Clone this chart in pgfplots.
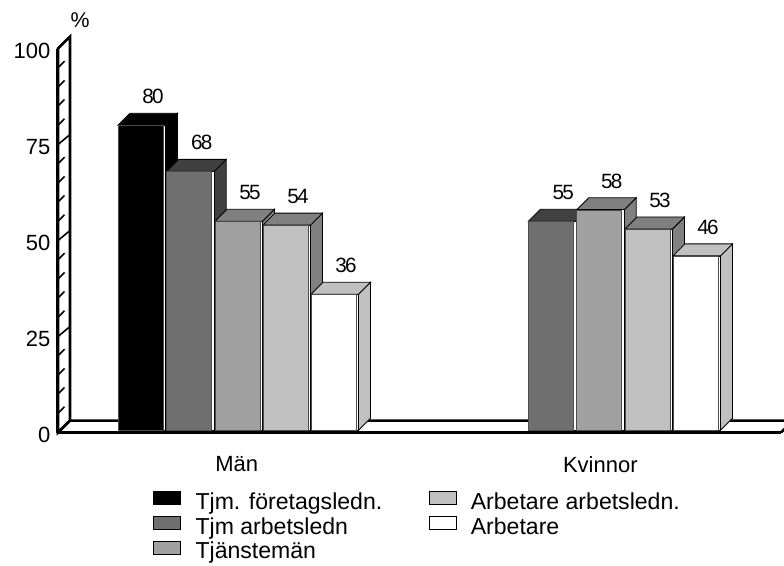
\documentclass[border=0pt]{standalone}
\usepackage{pgfplots}
\pgfplotsset{compat=1.18}
\usepackage{fontspec}
\setmainfont{Liberation Sans}
\newfontfamily\valfont[LetterSpace=-8]{Liberation Sans}

\def\px{0.75pt}
\definecolor{grayA}{HTML}{6F6F6F}
\definecolor{grayAd}{HTML}{404040}
\definecolor{grayB}{HTML}{A0A0A0}
\definecolor{grayBd}{HTML}{808080}
\definecolor{grayC}{HTML}{C0C0C0}

% one bar with depth: left edge (px), value, front, top and side colours
\newcommand{\solidbar}[5]{%
  \pgfmathsetmacro\xa{#1+45}%
  \pgfmathsetmacro\xb{#1+47.5}%
  \pgfmathsetmacro\xc{#1+12}%
  \pgfmathsetmacro\xd{#1+59.5}%
  \pgfmathsetmacro\yb{#2+3.125}%
  \pgfmathsetmacro\xl{#1+35}%
  \pgfmathsetmacro\yl{#2+7.5}%
  \edef\doit{%
    \noexpand\addplot[forget plot,fill=#5,draw=black,line width=0.8*\px] coordinates {(\xb,0.6)(\xd,3.725)(\xd,\yb)(\xb,#2)} --cycle;
    \noexpand\addplot[forget plot,fill=#4,draw=black,line width=0.8*\px] coordinates {(#1,#2)(\xc,\yb)(\xd,\yb)(\xb,#2)} --cycle;
    \noexpand\addplot[forget plot,fill=white,draw=black,line width=0.6*\px] coordinates {(#1,0.6)(\xb,0.6)(\xb,#2)(#1,#2)} --cycle;
    \noexpand\addplot[forget plot,fill=#3,draw=black!70,line width=0.5*\px] coordinates {(#1,0.6)(\xa,0.6)(\xa,#2)(#1,#2)} --cycle;
    \noexpand\node[font=\noexpand\valfont\noexpand\fontsize{15.5}{17}\noexpand\selectfont] at (axis cs:\xl,\yl) {#2};
  }\doit
}

\begin{document}
\begin{tikzpicture}
\path[use as bounding box] (-58*\px,-132.5*\px) rectangle (726*\px,432.5*\px);
\begin{axis}[
    at={(0,0)}, anchor=south west,
    scale only axis,
    width=723*\px, height=384*\px,
    xmin=58, xmax=781, ymin=0, ymax=100,
    clip=false, axis on top,
    axis lines=left,
    axis line style={-,line width=3*\px,black},
    major tick length=0pt,
    ytick={0,25,50,75,100},
    xtick={236.7,600.3},
    xticklabels={Män,Kvinnor},
    tick label style={font=\fontsize{16.5}{18}\selectfont},
    x tick label style={yshift=-19.5*\px},
    y tick label style={xshift=-3*\px,yshift=-2.5*\px},
    /pgf/number format/assume math mode=true,
    legend cell align=left,
    legend columns=3, transpose legend,
    legend style={at={(axis cs:153,-15.3)},anchor=north west,draw=none,fill=none,
      inner sep=0pt,outer sep=0pt,row sep=2.3*\px,
      font=\fontsize{17.3}{20}\selectfont,
      nodes={inner sep=0pt,text height=17*\px,text depth=4.5*\px},
      /tikz/column 1/.style={column sep=15*\px},
      /tikz/column 2/.style={column sep=47*\px},
      /tikz/column 3/.style={column sep=14*\px}},
    legend image code/.code={\path[#1] (0,-1.5*\px) rectangle (27*\px,11.5*\px);},
]
% wall and floor
\addplot[forget plot,fill=white,draw=black,line width=2.6*\px] coordinates {(58,0)(70,3.1)(70,103.1)(58,100)} --cycle;
\addplot[forget plot,draw=black,line width=2.6*\px] coordinates {(58,0)(70,3.1)(793,3.1)(781,0)};

\pgfplotsinvokeforeach{5,10,15,20,30,35,40,45,55,60,65,70,80,85,90,95}{
  \draw[line width=1.6*\px] (axis cs:58,#1) -- ++(6.5*\px,6.5*\px);
}
\pgfplotsinvokeforeach{25,50,75}{
  \draw[line width=1.6*\px] (axis cs:58,#1) -- ++(12*\px,10*\px);
}

% Män
\solidbar{118}{80}{black}{black}{black}
\solidbar{166.7}{68}{grayA}{grayAd}{grayAd}
\solidbar{215}{55}{grayB}{grayBd}{grayBd}
\solidbar{263}{54}{grayC}{grayBd}{grayBd}
\solidbar{311}{36}{white}{grayC}{grayC}
% Kvinnor
\solidbar{528.3}{55}{grayA}{grayAd}{grayAd}
\solidbar{576.7}{58}{grayB}{grayBd}{grayBd}
\solidbar{625}{53}{grayC}{grayBd}{grayBd}
\solidbar{673}{46}{white}{grayC}{grayC}

\node[font=\fontsize{16}{18}\selectfont] at (axis cs:80,107.5) {\%};

\addlegendimage{fill=black,draw=black}\addlegendentry{Tjm. företagsledn.}
\addlegendimage{fill=grayA,draw=black}\addlegendentry{Tjm arbetsledn}
\addlegendimage{fill=grayB,draw=black}\addlegendentry{Tjänstemän}
\addlegendimage{fill=grayC,draw=black}\addlegendentry{Arbetare arbetsledn.}
\addlegendimage{fill=white,draw=black}\addlegendentry{Arbetare}
\end{axis}
\end{tikzpicture}
\end{document}
